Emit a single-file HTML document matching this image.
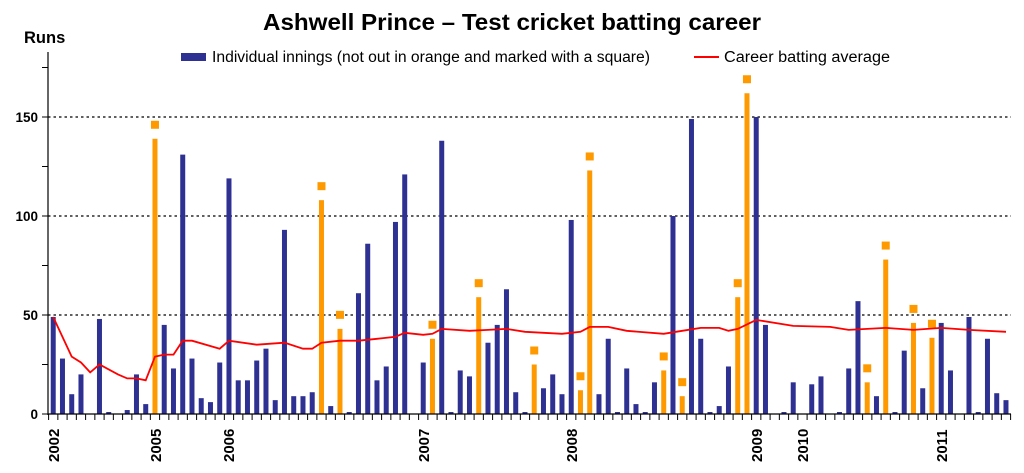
<!DOCTYPE html>
<html><head><meta charset="utf-8"><style>
html,body{margin:0;padding:0;background:#fff;}
svg{display:block;font-family:"Liberation Sans",Arial,sans-serif;}
</style></head><body>
<svg id="c" width="1024" height="473" viewBox="0 0 1024 473" xmlns="http://www.w3.org/2000/svg">
<rect width="1024" height="473" fill="#fff"/>
<text x="512" y="30" text-anchor="middle" font-size="23.5" font-weight="bold" fill="#000" textLength="498" lengthAdjust="spacingAndGlyphs">Ashwell Prince – Test cricket batting career</text>
<text x="24" y="43" font-size="16.5" font-weight="bold" fill="#000">Runs</text>
<rect x="181" y="53" width="25" height="8" fill="#2e3192"/>
<text x="212" y="62" font-size="15.5" fill="#000" textLength="438" lengthAdjust="spacingAndGlyphs">Individual innings (not out in orange and marked with a square)</text>
<line x1="694" y1="57" x2="719" y2="57" stroke="#f00" stroke-width="2"/>
<text x="724" y="62" font-size="15.5" fill="#000" textLength="166" lengthAdjust="spacingAndGlyphs">Career batting average</text>
<g font-size="13.5" font-weight="bold" text-anchor="end" fill="#000">
<text x="38" y="122">150</text>
<text x="38" y="221">100</text>
<text x="38" y="320">50</text>
<text x="38" y="419">0</text>
</g>
<g id="grid"></g>
<g id="bars"></g>
<g id="axes"></g>
<g font-size="15" font-weight="bold" fill="#000">
<text transform="translate(59,462) rotate(-90)">2002</text>
<text transform="translate(161,462) rotate(-90)">2005</text>
<text transform="translate(234,462) rotate(-90)">2006</text>
<text transform="translate(429,462) rotate(-90)">2007</text>
<text transform="translate(577,462) rotate(-90)">2008</text>
<text transform="translate(762,462) rotate(-90)">2009</text>
<text transform="translate(808,462) rotate(-90)">2010</text>
<text transform="translate(947,462) rotate(-90)">2011</text>
</g>
</svg>
<script>
(function(){
var NS="http://www.w3.org/2000/svg";
function el(p,t,a){var e=document.createElementNS(NS,t);for(var k in a)e.setAttribute(k,a[k]);p.appendChild(e);return e;}
var x0=48.6,W=9.25,N=104,base=414,k=1.98;
function Y(v){return base-v*k;}
var vals={0:49,1:28,2:10,3:20,5:48,6:1,8:2,9:20,10:5,11:-139,12:45,13:23,14:131,15:28,16:8,17:6,18:26,19:119,20:17,21:17,22:27,23:33,24:7,25:93,26:9,27:9,28:11,29:-108,30:4,31:-43,32:1,33:61,34:86,35:17,36:24,37:97,38:121,40:26,41:-38,42:138,43:1,44:22,45:19,46:-59,47:36,48:45,49:63,50:11,51:1,52:-25,53:13,54:20,55:10,56:98,57:-12,58:-123,59:10,60:38,61:1,62:23,63:5,64:1,65:16,66:-22,67:100,68:-9,69:149,70:38,71:1,72:4,73:24,74:-59,75:-162,76:150,77:45,79:1,80:16,82:15,83:19,85:1,86:23,87:57,88:-16,89:9,90:-78,91:1,92:32,93:-46,94:13,95:-38.5,96:46,97:22,99:49,100:1,101:38,102:10.5,103:7};
var g=document.getElementById('grid');
[50,100,150].forEach(function(v){el(g,'line',{x1:48,y1:Y(v),x2:1011,y2:Y(v),stroke:'#000','stroke-width':1.2,'stroke-dasharray':'2.5,3'});});
var b=document.getElementById('bars');
for(var i=0;i<N;i++){if(!(i in vals))continue;var v=vals[i];var no=v<0;v=Math.abs(v);
var cx=x0+W*(i+0.5);var y=Y(v);
el(b,'rect',{x:cx-2.5,y:y,width:5,height:base-y,fill:no?'#ff9900':'#2e3192'});
if(no)el(b,'rect',{x:cx-4,y:y-18,width:8,height:8,fill:'#ff9900'});}
var av=[[0,49],[2,29],[3,26],[4,21],[5,25],[7,20],[8,18],[9,18],[10,17],[11,29],[12,30],[13,30],[14,37],[15,37],[18,33],[19,37],[22,35],[25,36],[27,33],[28,33],[29,36],[31,37],[33,37],[35,38],[37,39],[38,41],[40,40],[41,40.5],[42,43],[45,42],[47,42.5],[49,43],[51,41.5],[55,40.5],[57,41.5],[58,44],[60,44],[62,42],[66,40.5],[68,42],[70,43.5],[72,43.5],[73,42],[74,43],[76,47.5],[80,44.5],[84,44],[86,42.5],[90,43.5],[93,42.5],[96,43.5],[99,42.5],[103,41.5]];
var pts=av.map(function(p){return (x0+W*(p[0]+0.5)).toFixed(1)+','+Y(p[1]).toFixed(1);}).join(' ');
el(b,'polyline',{points:pts,fill:'none',stroke:'#f00','stroke-width':1.8});
var a=document.getElementById('axes');
el(a,'line',{x1:48,y1:52,x2:48,y2:415,stroke:'#000','stroke-width':1.2});
el(a,'line',{x1:48,y1:414,x2:1011,y2:414,stroke:'#000','stroke-width':1.2});
for(var v=0;v<=175;v+=25)el(a,'line',{x1:42,y1:Y(v),x2:48,y2:Y(v),stroke:'#000','stroke-width':1});
for(var i=0;i<=N;i++){var x=x0+W*i;el(a,'line',{x1:x,y1:414,x2:x,y2:420,stroke:'#000','stroke-width':1});}
})();
</script>
</body></html>
